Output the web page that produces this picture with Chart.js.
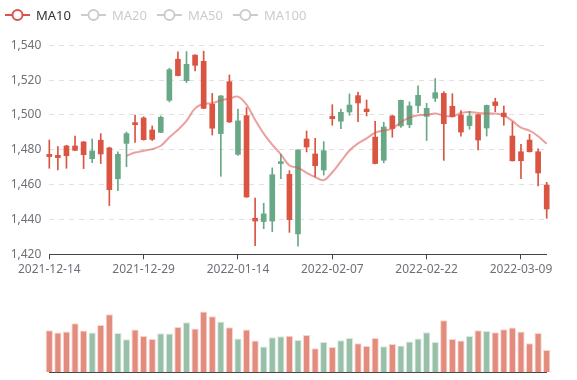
<!DOCTYPE html>
<html>
<head>
<meta charset="utf-8">
<script src="https://cdn.jsdelivr.net/npm/chart.js@4.4.1/dist/chart.umd.min.js"></script>
<style>
  html, body { margin: 0; padding: 0; background: #fff; }
  #kline { position: absolute; left: 0; top: 0; }
  #vol { position: absolute; left: 0; top: 290px; }
</style>
</head>
<body>
<canvas id="kline" width="577" height="290"></canvas>
<canvas id="vol" width="577" height="90"></canvas>
<script>
// trading days
const dates = [
  "2021-12-14", "2021-12-15", "2021-12-16", "2021-12-17", "2021-12-20", "2021-12-21", "2021-12-22",
  "2021-12-23", "2021-12-24", "2021-12-27", "2021-12-28", "2021-12-29", "2021-12-30", "2021-12-31",
  "2022-01-04", "2022-01-05", "2022-01-06", "2022-01-07", "2022-01-10", "2022-01-11", "2022-01-12",
  "2022-01-13", "2022-01-14", "2022-01-17", "2022-01-18", "2022-01-19", "2022-01-20", "2022-01-21",
  "2022-01-24", "2022-01-25", "2022-01-26", "2022-01-27", "2022-01-28", "2022-02-07", "2022-02-08",
  "2022-02-09", "2022-02-10", "2022-02-11", "2022-02-14", "2022-02-15", "2022-02-16", "2022-02-17",
  "2022-02-18", "2022-02-21", "2022-02-22", "2022-02-23", "2022-02-24", "2022-02-25", "2022-02-28",
  "2022-03-01", "2022-03-02", "2022-03-03", "2022-03-04", "2022-03-07", "2022-03-08", "2022-03-09",
  "2022-03-10", "2022-03-11", "2022-03-14"
];

const opens = [
  1477.4, 1476.8, 1482.2, 1482.2, 1484.5, 1474.9, 1485.5, 1481.1, 1463.4, 1483.7,
  1495.6, 1498.3, 1491.4, 1490.0, 1508.4, 1532.0, 1519.7, 1534.4, 1530.8, 1506.1,
  1489.3, 1519.1, 1477.4, 1499.6, 1440.7, 1438.8, 1439.1, 1472.1, 1465.9, 1431.7,
  1486.2, 1477.6, 1468.4, 1499.2, 1496.4, 1501.7, 1511.1, 1503.4, 1487.3, 1474.0,
  1499.4, 1493.7, 1494.4, 1505.4, 1499.2, 1509.6, 1512.4, 1505.0, 1500.0, 1493.9,
  1500.2, 1492.5, 1507.5, 1501.1, 1487.9, 1478.9, 1485.6, 1478.9, 1459.8
];
const closes = [
  1476.1, 1475.5, 1476.6, 1479.7, 1477.2, 1479.3, 1477.6, 1457.1, 1477.4, 1489.3,
  1494.4, 1485.8, 1486.0, 1498.7, 1526.0, 1522.6, 1529.1, 1528.5, 1503.8, 1492.4,
  1510.9, 1496.0, 1496.6, 1452.9, 1439.1, 1443.2, 1465.7, 1473.2, 1439.9, 1479.9,
  1481.6, 1470.9, 1479.5, 1497.9, 1501.5, 1505.7, 1506.9, 1501.9, 1472.1, 1493.1,
  1492.2, 1508.4, 1505.2, 1511.3, 1503.8, 1512.8, 1495.0, 1499.0, 1490.2, 1499.4,
  1485.6, 1505.5, 1505.4, 1499.0, 1473.7, 1473.7, 1478.9, 1466.7, 1446.0
];
const highs = [
  1485.6, 1481.8, 1482.6, 1487.9, 1484.8, 1486.2, 1489.3, 1481.5, 1478.8, 1490.2,
  1500.0, 1499.0, 1493.7, 1499.4, 1526.8, 1536.2, 1536.4, 1534.6, 1536.6, 1512.4,
  1511.3, 1523.0, 1503.4, 1504.2, 1452.3, 1449.3, 1469.6, 1477.4, 1468.0, 1480.1,
  1490.8, 1486.6, 1484.7, 1505.9, 1503.4, 1512.1, 1513.2, 1508.6, 1496.4, 1495.8,
  1499.8, 1508.6, 1507.5, 1516.8, 1506.7, 1520.9, 1513.4, 1512.2, 1502.5, 1502.1,
  1500.4, 1505.7, 1509.6, 1505.2, 1496.0, 1483.1, 1488.9, 1480.5, 1461.3
];
const lows = [
  1469.4, 1468.4, 1469.4, 1479.5, 1469.2, 1472.6, 1472.1, 1448.0, 1456.6, 1470.3,
  1484.3, 1485.5, 1485.3, 1489.8, 1507.5, 1522.4, 1518.6, 1525.3, 1503.6, 1488.5,
  1464.8, 1495.6, 1476.8, 1452.7, 1424.9, 1434.7, 1433.0, 1463.4, 1432.6, 1424.6,
  1478.8, 1464.4, 1465.5, 1494.1, 1492.2, 1499.8, 1496.2, 1499.4, 1471.9, 1472.5,
  1487.2, 1492.9, 1492.7, 1501.3, 1485.3, 1507.7, 1473.9, 1498.8, 1487.8, 1491.8,
  1479.9, 1487.9, 1501.9, 1494.1, 1473.5, 1463.4, 1478.7, 1459.2, 1440.7
];

// 10-day moving average as drawn
const ma10 = [
  null, null, null, null, null, null, null, null, null,
  1476.6, 1478.4, 1479.4, 1480.4, 1482.3, 1487.2, 1491.5, 1496.6, 1503.8, 1506.4, 1506.7,
  1508.4, 1509.4, 1510.5, 1505.9, 1497.2, 1489.3, 1482.9, 1477.4, 1471.0, 1469.7,
  1466.8, 1464.3, 1462.6, 1467.1, 1473.3, 1479.6, 1483.7, 1486.6, 1489.8, 1491.1,
  1492.2, 1495.9, 1498.5, 1499.8, 1500.1, 1500.8, 1499.6, 1499.3, 1501.1, 1501.7,
  1501.1, 1500.8, 1500.8, 1499.6, 1496.6, 1492.7, 1491.0, 1487.8, 1483.4
];

const volumes = [
  42, 39.7, 40.7, 49, 41.7, 39.7, 47.3, 58, 39.3, 33,
  42.7, 36.3, 33.3, 39, 38.7, 45.3, 50, 43.7, 60.7, 56,
  50.7, 45, 33.7, 42.7, 31.7, 25.7, 35, 36, 36.5, 32.3,
  37.3, 24, 30.3, 25.3, 32, 34.3, 29, 26.3, 34.3, 26,
  28.3, 26.7, 30.7, 33.7, 40, 30.3, 52, 33.3, 31.7, 36.3,
  42, 41.3, 40, 43, 44.7, 40.7, 29, 39.3, 22.3
];

const legendNames = ["MA10", "MA20", "MA50", "MA100"];
const legendOn = [true, false, false, false];

const UP = "#69a886";
const DOWN = "#da5441";
const UP_VOL = "#98c0a8";
const DOWN_VOL = "#e38b7c";

Chart.defaults.font.family = '"Noto Sans", sans-serif';
Chart.defaults.font.size = 12;
Chart.defaults.color = "#6e7079";

const isUp = (i) => closes[i] > opens[i];
const candleColor = (ctx) => (isUp(ctx.dataIndex) ? UP : DOWN);

// ---- legend drawn on top ----
const topLegend = {
  id: "topLegend",
  afterDraw(chart) {
    const ctx = chart.ctx;
    let x = 5;
    const y = 15;
    ctx.save();
    ctx.font = '13px "Noto Sans", sans-serif';
    ctx.textBaseline = "middle";
    legendNames.forEach((name, i) => {
      const c = legendOn[i] ? "#d9534f" : "#cccccc";
      ctx.strokeStyle = c;
      ctx.lineWidth = 2;
      ctx.beginPath();
      ctx.moveTo(x, y);
      ctx.lineTo(x + 25, y);
      ctx.stroke();
      ctx.beginPath();
      ctx.arc(x + 12.5, y, 5, 0, Math.PI * 2);
      ctx.fillStyle = "#fff";
      ctx.fill();
      ctx.stroke();
      ctx.fillStyle = legendOn[i] ? "#333" : "#cccccc";
      ctx.fillText(name, x + 31, y + 1);
      x += 31 + ctx.measureText(name).width + 10;
    });
    ctx.restore();
  }
};

new Chart(document.getElementById("kline"), {
  type: "bar",
  data: {
    labels: dates,
    datasets: [
      {
        type: "line",
        label: "MA10",
        data: ma10,
        borderColor: "rgba(217,83,79,0.55)",
        borderWidth: 2,
        pointRadius: 0,
        tension: 0.35,
        clip: false,
        order: 0
      },
      {
        label: "body",
        data: opens.map((o, i) => [o, closes[i]]),
        backgroundColor: candleColor,
        barThickness: 5,
        minBarLength: 1.5,
        grouped: false,
        clip: false,
        order: 1
      },
      {
        label: "wick",
        data: lows.map((l, i) => [l, highs[i]]),
        backgroundColor: candleColor,
        barThickness: 1,
        grouped: false,
        clip: false,
        order: 2
      }
    ]
  },
  options: {
    responsive: false,
    animation: false,
    layout: { padding: { left: 0, right: 30.3, top: 45.3, bottom: 0 } },
    plugins: { legend: { display: false }, tooltip: { enabled: false } },
    scales: {
      x: {
        type: "category",
        offset: false,
        grid: {
          offset: false,
          drawOnChartArea: false,
          drawTicks: true,
          tickLength: 5,
          tickColor: "#444"
        },
        border: { color: "#444" },
        ticks: {
          autoSkip: false,
          maxRotation: 0,
          padding: 3,
          color: "#6e7079",
          callback(v, i) {
            return i % 11 === 0 ? dates[i] : null;
          }
        },
        afterFit(s) { s.height = 35.7; }
      },
      y: {
        min: 1420,
        max: 1540,
        ticks: {
          stepSize: 20,
          padding: 8,
          color: "#6e7079",
          callback: (v) => v.toLocaleString("en-US")
        },
        grid: { color: "#e0e0e0", drawTicks: false },
        border: { display: false, dash: [5, 5] },
        afterFit(s) { s.width = 49.3; }
      }
    }
  },
  plugins: [topLegend]
});

new Chart(document.getElementById("vol"), {
  type: "bar",
  data: {
    labels: dates,
    datasets: [
      {
        label: "Volume",
        data: volumes,
        backgroundColor: (ctx) => (isUp(ctx.dataIndex) ? UP_VOL : DOWN_VOL),
        borderColor: (ctx) => (isUp(ctx.dataIndex) ? "rgba(152,192,168,0.35)" : "rgba(227,139,124,0.35)"),
        borderWidth: 1,
        barPercentage: 0.85,
        categoryPercentage: 1,
        clip: false
      }
    ]
  },
  options: {
    responsive: false,
    animation: false,
    layout: { padding: { left: 49.3, right: 30.3, top: 0, bottom: 0 } },
    plugins: { legend: { display: false }, tooltip: { enabled: false } },
    scales: {
      x: {
        type: "category",
        offset: false,
        grid: { drawOnChartArea: false, drawTicks: false },
        border: { color: "#444" },
        ticks: { display: false },
        afterFit(s) { s.height = 7.7; }
      },
      y: {
        display: false,
        min: 0,
        max: 82.3
      }
    }
  }
});
</script>
</body>
</html>
